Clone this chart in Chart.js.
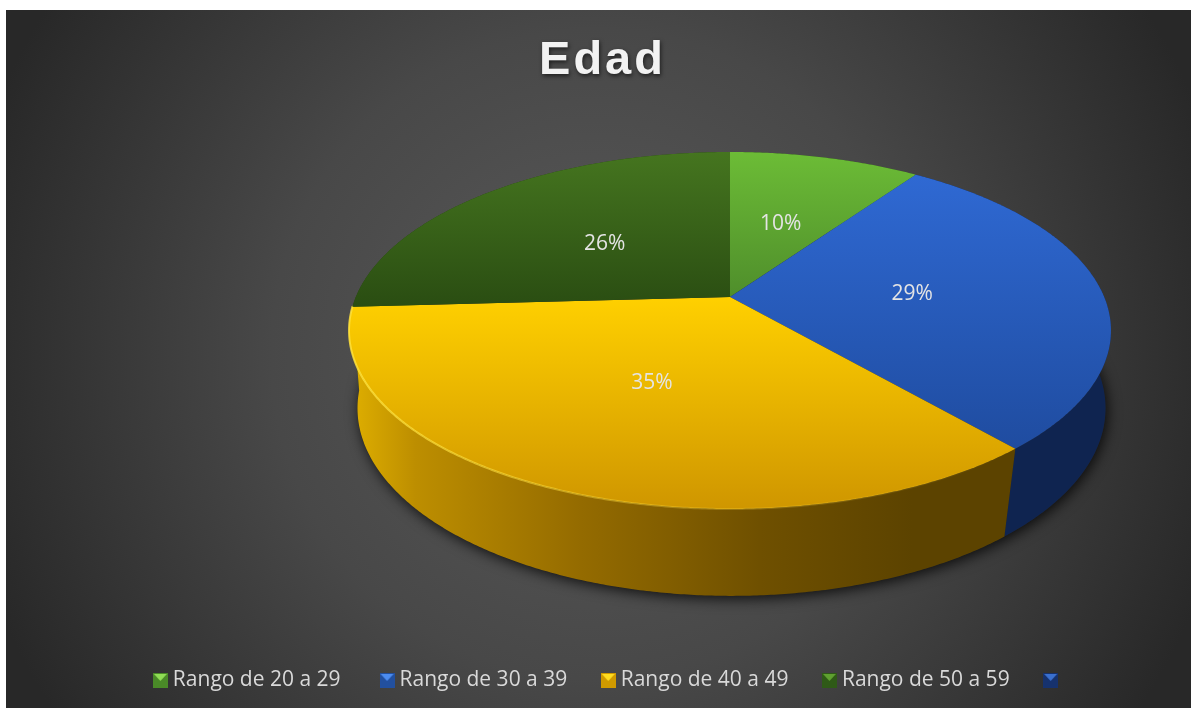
<!DOCTYPE html>
<html><head><meta charset="utf-8">
<style>html,body{margin:0;padding:0;background:#fff;overflow:hidden}canvas{position:absolute;left:6px;top:10px}</style>
<script src="https://cdn.jsdelivr.net/npm/chart.js@4"></script></head>
<body><canvas id="c" width="1185" height="698"></canvas>
<script>
const titleText = 'Edad';
const categories = ['Rango de 20 a 29 ','Rango de 30 a 39','Rango de 40 a 49','Rango de 50 a 59',''];
const values = [9.7,28.95,35.45,25.9,0];
const baseColors = ['#5fa82f','#2a5fc0','#f5c000','#37661b','#1d3f8c'];
const topGradients = [['#6cbc36','#4f8e2b'],['#2f69d3','#1f4ca0'],['#ffd000','#cf9600'],['#45751f','#2a4d12'],['#1d3f8c','#1d3f8c']];
const sideStops = [[[0,'#2c5a14'],[1,'#2c5a14']],[[0,'#0f2450'],[1,'#0f2450']],
  [[0,'#e0b000'],[0.1,'#bd8e00'],[0.35,'#946b00'],[0.62,'#6f5000'],[0.85,'#5c4300'],[1,'#5c4300']],
  [[0,'#22400f'],[1,'#22400f']],[[0,'#0f2450'],[1,'#0f2450']]];
const TOP = {x:724, y:287, a:374.2, b:172.2, c:0.1877};
const LOW = {x:725.5, y:370, a:369.8, b:183.5, c:0.15};
function proj(d, th, r=1){
  const u = r*Math.sin(th), v = r*Math.cos(th), k = 1 + d.c*v;
  return [d.x + d.a*u/k, d.y - d.b*v/k];
}
function marker(col){
  const s=15, m=document.createElement('canvas'); m.width=s; m.height=s;
  const g=m.getContext('2d');
  const tri=(pts,c)=>{g.fillStyle=c;g.beginPath();pts.forEach((p,i)=>i?g.lineTo(p[0],p[1]):g.moveTo(p[0],p[1]));g.closePath();g.fill();};
  g.fillStyle=col[1]; g.fillRect(0,0,s,s);
  tri([[1,1],[s-1,1],[7.5,8]],col[0]);
  return m;
}
const markerCols = [['#8fdc55','#4a8a28'],['#4c8cf0','#22509f'],['#ffdc20','#d09a00'],['#5fa030','#2f5a17'],['#3a70d0','#16326e']];
const markers = markerCols.map(marker);

const pie3d = {
  id:'pie3d',
  beforeDraw(chart){
    const {ctx,width,height}=chart;
    const g=ctx.createRadialGradient(590,344,0,590,344,650);
    g.addColorStop(0,'#5a5a5a');g.addColorStop(0.5,'#484848');g.addColorStop(1,'#282828');
    ctx.save();ctx.fillStyle=g;ctx.fillRect(0,0,width,height);ctx.restore();
    const tb=chart.titleBlock;
    if(tb && !tb._styled){
      tb._styled=true;
      const orig=tb.draw;
      tb.draw=function(){
        ctx.save();
        ctx.letterSpacing='3px';ctx.shadowColor='rgba(0,0,0,0.6)';ctx.shadowBlur=4;ctx.shadowOffsetX=1;ctx.shadowOffsetY=2;
        ctx.translate(-8.25,2);
        orig.apply(this,arguments);
        ctx.restore();
      };
    }
  },
  beforeDatasetDraw(chart,args){
    const {ctx}=chart, meta=args.meta, arcs=meta.data;
    const ang=arcs.map(a=>[a.startAngle+Math.PI/2,a.endAngle+Math.PI/2]);
    const path=(pts)=>{ctx.beginPath();pts.forEach((p,i)=>i?ctx.lineTo(p[0],p[1]):ctx.moveTo(p[0],p[1]));ctx.closePath();};
    const edge=(d,s,e)=>{const n=Math.max(2,Math.ceil((e-s)/0.008)),o=[];for(let i=0;i<=n;i++)o.push(proj(d,s+(e-s)*i/n));return o;};
    // soft shadow under the disc
    ctx.save();
    ctx.shadowColor='rgba(0,0,0,0.8)';ctx.shadowBlur=14;ctx.shadowOffsetX=2;ctx.shadowOffsetY=3;
    ctx.fillStyle='#222';path(edge(LOW,0,Math.PI*2));ctx.fill();
    ctx.restore();
    // side walls, back to front
    const order=arcs.map((a,i)=>i).sort((p,q)=>
      Math.abs((ang[q][0]+ang[q][1])/2-Math.PI)-Math.abs((ang[p][0]+ang[p][1])/2-Math.PI));
    order.forEach(i=>{
      const [s,e]=ang[i]; if(e-s<1e-4)return;
      const pts=edge(TOP,s,e).concat(edge(LOW,s,e).reverse());
      const g=ctx.createLinearGradient(343,0,1006,0);
      sideStops[i].forEach(t=>g.addColorStop(t[0],t[1]));
      ctx.fillStyle=g;path(pts);ctx.fill();
    });
    // top faces
    arcs.forEach((a,i)=>{
      const [s,e]=ang[i]; if(e-s<1e-4)return;
      const rim=edge(TOP,s,e), pts=[[TOP.x,TOP.y]].concat(rim);
      const ys=pts.map(p=>p[1]);
      const g=ctx.createLinearGradient(0,Math.min(...ys),0,Math.max(...ys));
      g.addColorStop(0,topGradients[i][0]);g.addColorStop(1,topGradients[i][1]);
      ctx.fillStyle=g;path(pts);ctx.fill();
      if(i===2){
        const rg=ctx.createLinearGradient(343,0,1006,0);
        rg.addColorStop(0,'rgba(255,226,60,0.85)');rg.addColorStop(0.5,'rgba(255,220,60,0.3)');rg.addColorStop(1,'rgba(255,220,60,0)');
        ctx.save();ctx.strokeStyle=rg;ctx.lineWidth=2;ctx.lineCap='round';
        ctx.beginPath();rim.forEach((p,j)=>j?ctx.lineTo(p[0],p[1]):ctx.moveTo(p[0],p[1]));ctx.stroke();ctx.restore();
      }
    });
    // data labels
    const total=values.reduce((x,y)=>x+y,0);
    ctx.save();ctx.font='21px "Open Sans"';ctx.fillStyle='#e4e4e4';ctx.textAlign='center';ctx.textBaseline='middle';
    arcs.forEach((a,i)=>{
      if(!values[i])return;
      const [s,e]=ang[i],p=proj(TOP,(s+e)/2,0.49);
      ctx.fillText(Math.round(values[i]/total*100)+'%',p[0],p[1]+1.5);
    });
    ctx.restore();
    return false;
  }
};

new Chart(document.getElementById('c'),{
  type:'pie',
  data:{labels:categories,datasets:[{data:values,backgroundColor:baseColors,borderWidth:0}]},
  plugins:[pie3d],
  options:{
    responsive:false,animation:false,
    layout:{padding:{bottom:7,left:24.5}},
    plugins:{
      tooltip:{enabled:false},
      title:{display:true,text:titleText,color:'#f2f2f2',font:{family:'"Liberation Sans"',size:47,weight:'bold'},padding:{top:21,bottom:10}},
      legend:{position:'bottom',labels:{
        font:{family:'"Open Sans"',size:21},color:'#d9d9d9',usePointStyle:true,boxWidth:4,boxHeight:15,padding:39,
        generateLabels(chart){
          return Chart.overrides.pie.plugins.legend.labels.generateLabels(chart).map((l,i)=>Object.assign(l,{pointStyle:markers[i],fontColor:'#d9d9d9'}));
        }
      }}
    }
  }
});
</script></body></html>
